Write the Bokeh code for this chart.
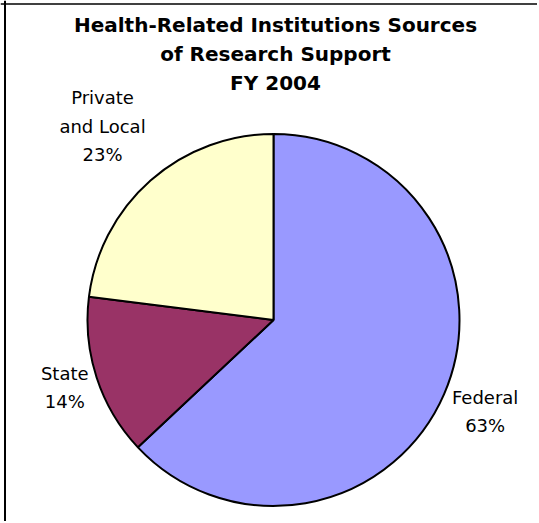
import math
from bokeh.plotting import figure
from bokeh.models import Range1d, Span
from bokeh.core.properties import value
from bokeh.embed import file_html
from bokeh.resources import INLINE

# ---- data ----
categories = ["Federal", "State", "Private\nand Local"]
shares = [63, 14, 23]
colors = ["#9999FF", "#993366", "#FFFFCC"]
title_text = "Health-Related Institutions Sources\nof Research Support\nFY 2004"

# ---- layout constants (screen pixels) ----
CX, CY, R = 274, 320.5, 186
label_factor = [1.24, 1.18, 1.39]
W, H = 537, 521

p = figure(width=W, height=H, output_backend="svg", toolbar_location=None,
           x_range=Range1d(1, 1 + W), y_range=Range1d(-1 - H, -1),
           min_border=0, outline_line_color=None)
p.axis.visible = False
p.grid.visible = False
p.background_fill_color = "white"
p.border_fill_color = "white"

total = float(sum(shares))
cum = 0.0
starts, ends, lx, ly, texts = [], [], [], [], []
for i, (c, s) in enumerate(zip(categories, shares)):
    a_end = math.pi / 2 - 2 * math.pi * cum / total
    cum += s
    a_start = math.pi / 2 - 2 * math.pi * cum / total
    starts.append(a_start)
    ends.append(a_end)
    mid = (a_start + a_end) / 2
    lx.append(CX + R * label_factor[i] * math.cos(mid))
    ly.append(-CY + R * label_factor[i] * math.sin(mid))
    texts.append(f"{c}\n{s}%")

p.wedge(x=[CX] * 3, y=[-CY] * 3, radius=R, start_angle=starts, end_angle=ends,
        fill_color=colors, line_color="black", line_width=2)

p.text(x=lx, y=ly, text=texts, text_align="center", text_baseline="middle",
       text_font=value("DejaVu Sans"), text_font_size="18px", text_color="black",
       text_line_height=1.34)

p.text(x=[276], y=[-54.5], text=[title_text], text_align="center", text_baseline="middle",
       text_font=value("DejaVu Sans"), text_font_style="bold", text_font_size="20px",
       text_color="black", text_line_height=1.2)

p.add_layout(Span(location=-4.5, dimension="width", line_color="#404040", line_width=2))
p.add_layout(Span(location=5.5, dimension="height", line_color="black", line_width=2))

open("out.html", "w").write(file_html(p, INLINE))
